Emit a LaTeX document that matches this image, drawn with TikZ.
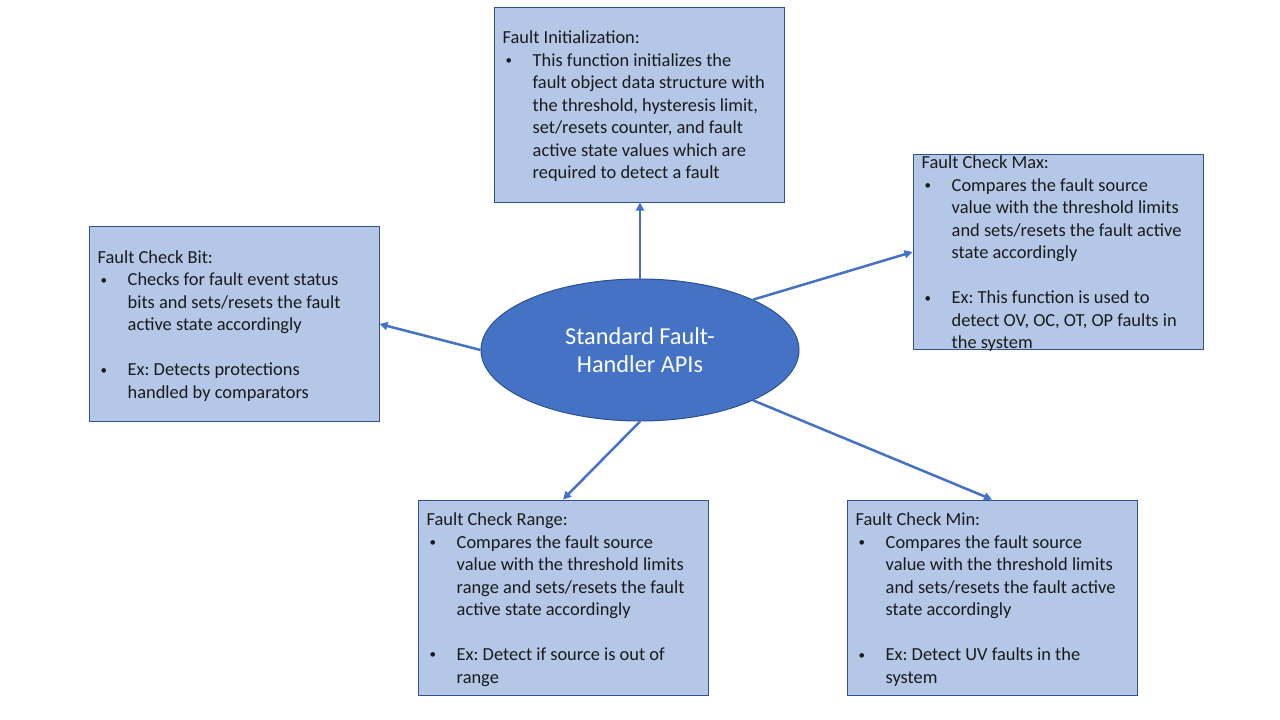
\documentclass[tikz,border=0pt]{standalone}
\usepackage{fontspec}
\setmainfont{Carlito}
\usetikzlibrary{arrows.meta,shapes.geometric}
\definecolor{boxfill}{HTML}{B4C7E7}
\definecolor{boxline}{HTML}{2F528F}
\definecolor{accent}{HTML}{4472C4}
\definecolor{ink}{HTML}{1A1A1A}
\newcommand{\bl}{\makebox[30pt][l]{\hspace{3pt}\raisebox{1.6pt}{\fontsize{13}{13}\selectfont\textbullet}}}
\newcommand{\ind}{\makebox[30pt]{}}
\frenchspacing
\begin{document}
\frenchspacing
\begin{tikzpicture}[x=1pt,y=-1pt,
  panel/.style={draw=boxline, line width=1pt, fill=boxfill, minimum width=290pt, minimum height=195pt, inner sep=0pt},
  paneltext/.style={anchor=west, inner sep=0pt, align=left, font=\frenchspacing\fontsize{18.4}{22.5}\selectfont, text=ink},
  hub/.style={ellipse, draw=boxline, line width=1pt, fill=accent, minimum width=318pt, minimum height=142pt, inner sep=0pt, text=white, align=center, font=\fontsize{24.3}{28.5}\selectfont},
  link/.style={draw=accent, line width=2.5pt, -{Triangle[length=8pt,width=8pt]}}
]
\fill[white] (0,0) rectangle (1280,720);
\useasboundingbox (0,0) rectangle (1280,720);

\node[panel] (init)  at (639,104.5) {};
\node[panel] (max)   at (1058,252) {};
\node[panel] (bit)   at (234,324) {};
\node[panel] (range) at (563,597.5) {};
\node[panel] (min)   at (992,597.5) {};

\node[hub] (hub) at (640,350) {Standard Fault-\\Handler APIs};

\node[paneltext] (initT) at ([xshift=9pt,yshift=-2pt]init.west) {Fault Initialization:\\
\bl This function initializes the\\
\ind fault object data structure with\\
\ind the threshold, hysteresis limit,\\
\ind set/resets counter, and fault\\
\ind active state values which are\\
\ind required to detect a fault};

\node[paneltext] (maxT) at ([xshift=9pt,yshift=-2pt]max.west) {Fault Check Max:\\
\bl Compares the fault source\\
\ind value with the threshold limits\\
\ind and sets/resets the fault active\\
\ind state accordingly\\[22.5pt]
\bl Ex: This function is used to\\
\ind detect OV, OC, OT, OP faults in\\
\ind the system};

\node[paneltext] (bitT) at ([xshift=9pt,yshift=-2pt]bit.west) {Fault Check Bit:\\
\bl Checks for fault event status\\
\ind bits and sets/resets the fault\\
\ind active state accordingly\\[22.5pt]
\bl Ex: Detects protections\\
\ind handled by comparators};

\node[paneltext] (rangeT) at ([xshift=9pt,yshift=-2pt]range.west) {Fault Check Range:\\
\bl Compares the fault source\\
\ind value with the threshold limits\\
\ind range and sets/resets the fault\\
\ind active state accordingly\\[22.5pt]
\bl Ex: Detect if source is out of\\
\ind range};

\node[paneltext] (minT) at ([xshift=9pt,yshift=-2pt]min.west) {Fault Check Min:\\
\bl Compares the fault source\\
\ind value with the threshold limits\\
\ind and sets/resets the fault active\\
\ind state accordingly\\[22.5pt]
\bl Ex: Detect UV faults in the\\
\ind system};

\draw[link] (hub.north) -- (hub.north |- init.south);
\draw[link] (hub.24.9) -- (max.west);
\draw[link] (hub.west) -- (bit.east);
\draw[link] (hub.south) -- (range.north);
\draw[link] (hub.-24.9) -- (min.north);
\end{tikzpicture}
\end{document}
